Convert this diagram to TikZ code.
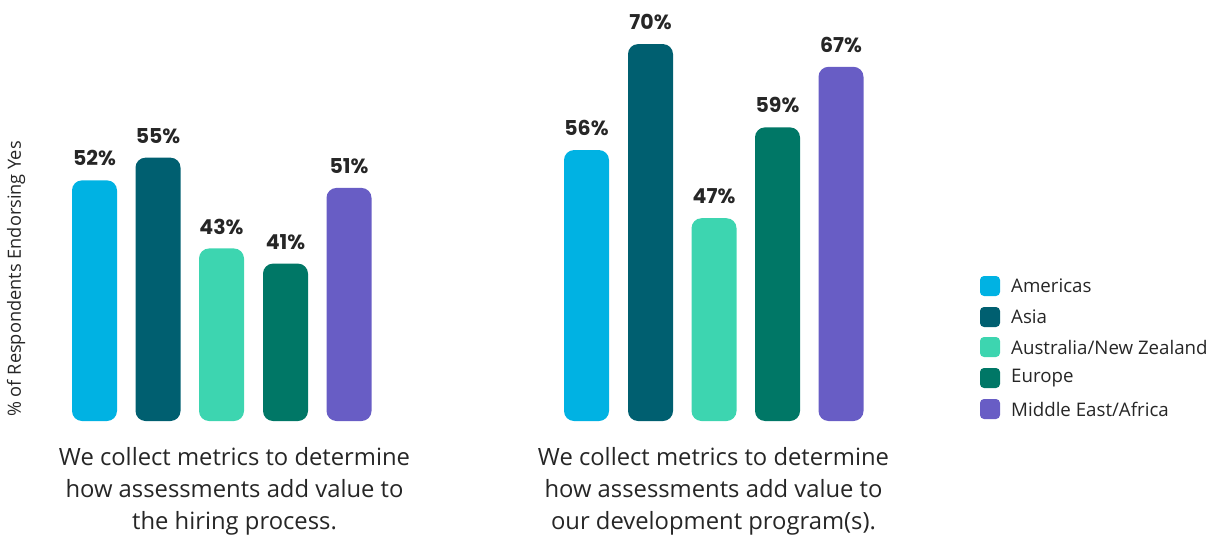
\documentclass[tikz,border=0pt]{standalone}
\usepackage{fontspec}
\setmainfont{Open Sans}
\newfontfamily\valfont{Poppins}
\usetikzlibrary{positioning}

\definecolor{americas}{HTML}{00B2E3}
\definecolor{asia}{HTML}{005F70}
\definecolor{anz}{HTML}{3DD5B0}
\definecolor{europe}{HTML}{007766}
\definecolor{mea}{HTML}{685DC5}
\definecolor{ink}{HTML}{262626}

\begin{document}
\begin{tikzpicture}
  [x=1pt, y=-1pt,
   bar/.style = {rounded corners=10pt},
   val/.style = {font=\valfont\bfseries\fontsize{20.5}{20.5}\selectfont, text=ink, inner sep=0pt},
   captext/.style = {font=\fontsize{23.8}{32}\selectfont, text=ink, align=center, inner sep=0pt},
   key/.style = {rounded corners=4pt},
   keytext/.style = {font=\fontsize{18.7}{18.7}\selectfont, text=ink, anchor=west, inner sep=0pt}]
  \useasboundingbox (0,0) rectangle (1210,535);

  % hiring process
  \foreach \x/\v/\c [count=\i] in {94.5/52/americas, 158/55/asia, 221.5/43/anz, 285.5/41/europe, 349/51/mea} {
    \fill[bar, \c] (\x-22.5,421) rectangle (\x+22.5,574-7.57*\v);
    \node[val] (hire\i) at (\x,574-7.57*\v-22) {\v\%};
  }
  % development programs
  \foreach \x/\v/\c [count=\i] in {586.5/56/americas, 650.5/70/asia, 714/47/anz, 777.5/59/europe, 841/67/mea} {
    \fill[bar, \c] (\x-22.5,421) rectangle (\x+22.5,574-7.57*\v);
    \node[val] (dev\i) at (\x,574-7.57*\v-22) {\v\%};
  }

  \node[captext] (hirecap) at (234.5,491) {We collect metrics to determine\\how assessments add value to\\the hiring process.};
  \node[captext] (devcap) at (713.5,491) {We collect metrics to determine\\how assessments add value to\\our development program(s).};

  \node[rotate=90, font=\fontsize{18.2}{18.2}\selectfont, text=ink, inner sep=0pt] (ylab) at (16,279) {\% of Respondents Endorsing Yes};

  % legend
  \foreach \y/\c/\t [count=\i] in {286/americas/{Americas}, 317/asia/{Asia}, 347/anz/{Australia/New Zealand}, 378/europe/{Europe}, 409/mea/{Middle East/Africa}} {
    \fill[key, \c] (980,\y-10) rectangle (1000,\y+10);
    \node[keytext] (key\i) at (1011,\y) {\t};
  }
\end{tikzpicture}
\end{document}
